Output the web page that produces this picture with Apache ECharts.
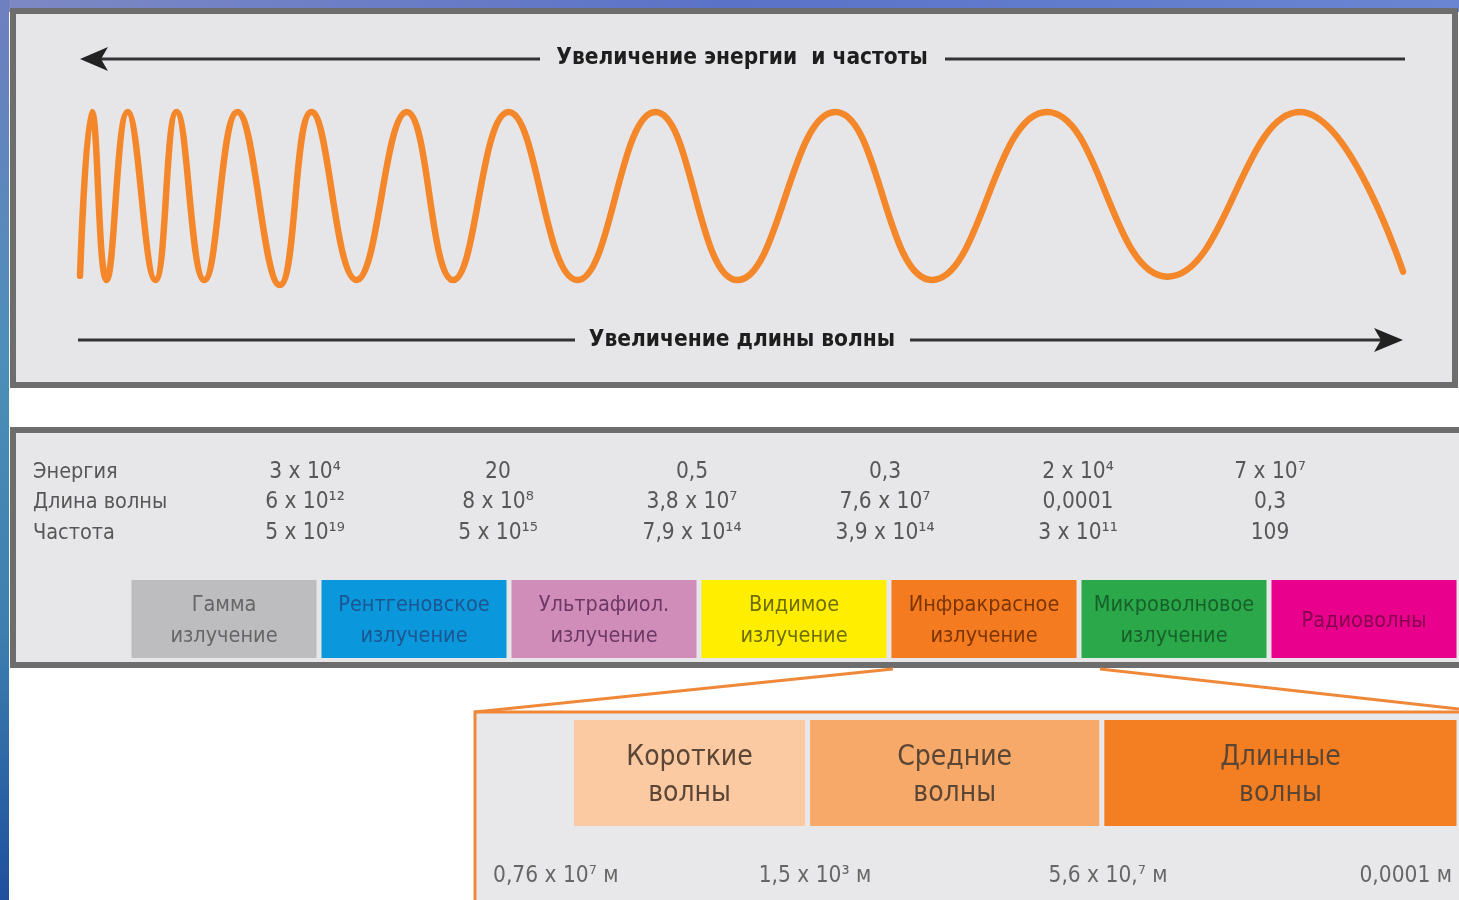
<!DOCTYPE html>
<html><head><meta charset="utf-8">
<script src="https://cdn.jsdelivr.net/npm/echarts@6/dist/echarts.min.js"></script>
<style>html,body{margin:0;padding:0;background:#fff}#c{width:1459px;height:900px}</style>
</head><body><div id="c"></div><script>
// ---- data ----
const waveX = [0, 0.9, 2.0, 3.6, 5.7, 7.3, 9.4, 11.9, 15.1, 17.5, 20.9, 24.7, 28.2, 32.4, 37.6, 43.5, 49.7, 57.1, 64.4, 73.1, 82.2, 92.2, 100];
const waveY = [-0.95, 1, -1, 1, -1, 1, -1, 1, -1.06, 1, -1, 1, -1, 1, -1, 1, -1, 1, -1, 1, -0.96, 1, -0.9];
const topArrowText = 'Увеличение энергии  и частоты';
const bottomArrowText = 'Увеличение длины волны';
const rowLabels = ['Энергия', 'Длина волны', 'Частота'];
const energyValues = ['3 x 10⁴', '20', '0,5', '0,3', '2 x 10⁴', '7 x 10⁷'];
const wavelengthValues = ['6 x 10¹²', '8 x 10⁸', '3,8 x 10⁷', '7,6 x 10⁷', '0,0001', '0,3'];
const frequencyValues = ['5 x 10¹⁹', '5 x 10¹⁵', '7,9 x 10¹⁴', '3,9 x 10¹⁴', '3 x 10¹¹', '109'];
const bandNames = ['Гамма\nизлучение', 'Рентгеновское\nизлучение', 'Ультрафиол.\nизлучение', 'Видимое\nизлучение', 'Инфракрасное\nизлучение', 'Микроволновое\nизлучение', 'Радиоволны'];
const bandValues = [1, 1, 1, 1, 1, 1, 1];
const subBandNames = ['Короткие\nволны', 'Средние\nволны', 'Длинные\nволны'];
const subBandStart = [98, 338, 637];
const subBandEnd = [338, 637, 1000];
const boundaryLabels = ['0,76 x 10⁷ м', '1,5 x 10³ м', '5,6 x 10,⁷ м', '0,0001 м'];

// ---- styles ----
const bandColors = ['#bdbdbf', '#0b97db', '#d18dba', '#ffee00', '#f47b20', '#2ba84a', '#e9008c'];
const bandTextColors = ['#666666', '#1b5690', '#6e3866', '#6e6e00', '#7c3500', '#17602a', '#86004f'];
const subBandColors = ['#fbcaa2', '#f6a968', '#f47f22'];
const FONT = "'DejaVu Sans Condensed', 'DejaVu Sans', sans-serif";
const colX = [305, 498, 692, 885, 1078, 1270];
const rowY = [472, 502, 533];

const graphics = [];
// background strips
graphics.push({type: 'rect', z: -20, shape: {x: 0, y: 0, width: 1459, height: 12},
  style: {fill: new echarts.graphic.LinearGradient(0, 0, 1, 0, [{offset: 0, color: '#7d89c4'}, {offset: 0.5, color: '#5a72c8'}, {offset: 1, color: '#6a86d2'}])}});
graphics.push({type: 'rect', z: -20, shape: {x: 0, y: 0, width: 9, height: 900},
  style: {fill: new echarts.graphic.LinearGradient(0, 0, 0, 1, [{offset: 0, color: '#6f7fc0'}, {offset: 0.4, color: '#4c8fb8'}, {offset: 0.7, color: '#3d7fae'}, {offset: 1, color: '#1f4f9e'}])}});
// panels
graphics.push({type: 'rect', z: -10, shape: {x: 13, y: 11, width: 1442, height: 374},
  style: {fill: '#e6e6e8', stroke: '#6d6d6d', lineWidth: 6}});
graphics.push({type: 'rect', z: -10, shape: {x: 13, y: 430, width: 1480, height: 235},
  style: {fill: '#e7e7e9', stroke: '#6d6d6d', lineWidth: 6}});
// zoom frame
graphics.push({type: 'rect', z: -10, shape: {x: 475, y: 712, width: 1020, height: 220},
  style: {fill: '#e8e8ea', stroke: '#f0883a', lineWidth: 3}});
graphics.push({type: 'line', z: -5, shape: {x1: 475, y1: 712, x2: 893, y2: 669}, style: {stroke: '#f0883a', lineWidth: 3}});
graphics.push({type: 'line', z: -5, shape: {x1: 1100, y1: 669, x2: 1459, y2: 709}, style: {stroke: '#f0883a', lineWidth: 3}});
// arrows
graphics.push({type: 'line', z: 5, shape: {x1: 100, y1: 59, x2: 540, y2: 59}, style: {stroke: '#333', lineWidth: 3}});
graphics.push({type: 'line', z: 5, shape: {x1: 945, y1: 59, x2: 1405, y2: 59}, style: {stroke: '#333', lineWidth: 3}});
graphics.push({type: 'polygon', z: 5, shape: {points: [[80, 59], [108, 47], [101, 59], [108, 71]]}, style: {fill: '#222'}});
graphics.push({type: 'text', z: 10, style: {x: 742, y: 58, text: topArrowText, align: 'center', verticalAlign: 'middle', fill: '#1e1e1e', font: "bold 22.5px " + FONT}});
graphics.push({type: 'line', z: 5, shape: {x1: 78, y1: 340, x2: 575, y2: 340}, style: {stroke: '#333', lineWidth: 3}});
graphics.push({type: 'line', z: 5, shape: {x1: 910, y1: 340, x2: 1385, y2: 340}, style: {stroke: '#333', lineWidth: 3}});
graphics.push({type: 'polygon', z: 5, shape: {points: [[1403, 340], [1374, 328], [1381, 340], [1374, 352]]}, style: {fill: '#222'}});
graphics.push({type: 'text', z: 10, style: {x: 742, y: 340, text: bottomArrowText, align: 'center', verticalAlign: 'middle', fill: '#1e1e1e', font: "bold 22.5px " + FONT}});
// table
rowLabels.forEach((t, i) => graphics.push({type: 'text', z: 10, style: {x: 33, y: rowY[i], text: t, verticalAlign: 'middle', fill: '#575757', font: "21.5px " + FONT}}));
[energyValues, wavelengthValues, frequencyValues].forEach((row, r) => row.forEach((t, c) =>
  graphics.push({type: 'text', z: 10, style: {x: colX[c], y: rowY[r], text: t, align: 'center', verticalAlign: 'middle', fill: '#575757', font: "22.5px " + FONT}})));
// boundary labels
const blX = [493, 815, 1108, 1452];
const blAlign = ['left', 'center', 'center', 'right'];
boundaryLabels.forEach((t, i) => graphics.push({type: 'text', z: 10, style: {x: blX[i], y: 876, text: t, align: blAlign[i], verticalAlign: 'middle', fill: '#666', font: "22.5px " + FONT}}));

const option = {
  animation: false,
  grid: [
    {left: 80, width: 1323, top: 103.6, height: 184.8},
    {left: 129, width: 1337, top: 580, height: 78},
    {left: 475, width: 1000, top: 720, height: 106}
  ],
  xAxis: [
    {type: 'value', gridIndex: 0, min: 0, max: 100, show: false},
    {type: 'category', gridIndex: 1, data: bandNames, show: false},
    {type: 'value', gridIndex: 2, min: 0, max: 1000, show: false}
  ],
  yAxis: [
    {type: 'value', gridIndex: 0, min: -1.1, max: 1.1, show: false},
    {type: 'value', gridIndex: 1, min: 0, max: 1, show: false},
    {type: 'value', gridIndex: 2, min: 0, max: 1, show: false}
  ],
  graphic: graphics,
  series: [
    {type: 'line', xAxisIndex: 0, yAxisIndex: 0, data: waveX.map((x, i) => [x, waveY[i]]), clip: false,
      smooth: 0.45, symbol: 'none', lineStyle: {color: '#f5872b', width: 6.5, cap: 'round'}, z: 3},
    {type: 'bar', xAxisIndex: 1, yAxisIndex: 1, barWidth: 185,
      data: bandValues.map((v, i) => ({value: v, itemStyle: {color: bandColors[i]},
        label: {color: bandTextColors[i]}})),
      label: {show: true, position: 'inside', offset: [0, 2], formatter: p => bandNames[p.dataIndex], fontFamily: FONT, fontSize: 21.5, lineHeight: 31}},
    {type: 'custom', xAxisIndex: 2, yAxisIndex: 2, data: subBandStart.map((s, i) => [s, subBandEnd[i]]),
      renderItem: (params, api) => {
        const p0 = api.coord([api.value(0), 1]);
        const p1 = api.coord([api.value(1), 0]);
        const i = params.dataIndex;
        return {type: 'rect', shape: {x: p0[0] + 2.5, y: p0[1], width: p1[0] - p0[0] - 5, height: p1[1] - p0[1]},
          style: {fill: subBandColors[i]},
          textContent: {style: {text: subBandNames[i], fill: '#5b4535', font: "28px " + FONT, lineHeight: 36, align: 'center'}},
          textConfig: {position: 'inside', offset: [0, 3]}};
      }}
  ]
};
echarts.init(document.getElementById('c')).setOption(option);
</script></body></html>
